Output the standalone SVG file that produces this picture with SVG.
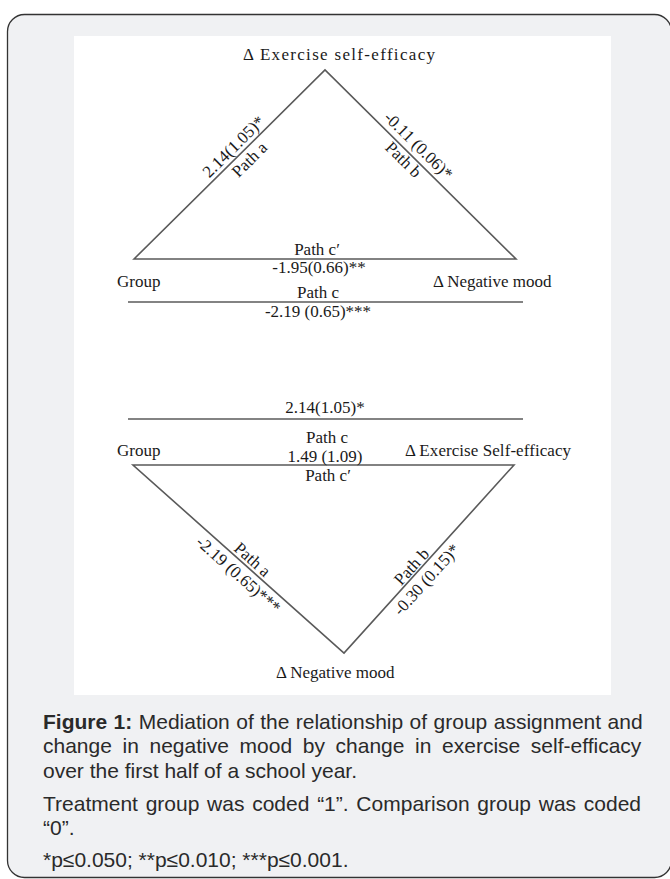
<svg xmlns="http://www.w3.org/2000/svg" width="670" height="879" viewBox="0 0 670 879">
<style>
.lbl{font-family:"Liberation Serif","Times New Roman",serif;font-size:17px;fill:#1a1a1a}
.mid{text-anchor:middle}
.edge{stroke:#5a5a5a;stroke-width:1.6;fill:none}
.cap{font-family:"Liberation Sans",Arial,sans-serif;font-size:21px;fill:#2a2a2a}
</style>
<rect x="7.5" y="14.5" width="664" height="863" rx="17" ry="17" fill="#f0f1f3" stroke="#333" stroke-width="1.3"/>
<rect x="74" y="36" width="537" height="659" fill="#ffffff"/>

<g id="connectors">
  <g id="top-model">
    <polygon class="edge" points="134,259 325,70 516,259"/>
    <line class="edge" x1="128" y1="302" x2="523" y2="302"/>
  </g>
  <g id="bottom-model">
    <line class="edge" x1="128" y1="419" x2="523" y2="419"/>
    <polygon class="edge" points="133,465 514,465 344,653"/>
  </g>
</g>

<g id="edge-labels">
  <text class="lbl mid" transform="translate(234,147) rotate(-44.7)" y="5">2.14(1.05)*</text>
  <text class="lbl mid" transform="translate(250,160) rotate(-44.7)" y="5">Path a</text>
  <text class="lbl mid" transform="translate(418,146) rotate(44.7)" y="5">-0.11 (0.06)*</text>
  <text class="lbl mid" transform="translate(403,160) rotate(44.7)" y="5">Path b</text>
  <text class="lbl mid" x="317" y="255">Path c′</text>
  <text class="lbl mid" x="319" y="273">-1.95(0.66)**</text>
  <text class="lbl mid" x="318" y="298">Path c</text>
  <text class="lbl mid" x="318" y="317">-2.19 (0.65)***</text>

  <text class="lbl mid" x="325" y="413">2.14(1.05)*</text>
  <text class="lbl mid" x="327" y="443">Path c</text>
  <text class="lbl mid" x="325" y="462">1.49 (1.09)</text>
  <text class="lbl mid" x="328" y="481">Path c′</text>
  <text class="lbl mid" transform="translate(252,560) rotate(41.7)" y="5">Path a</text>
  <text class="lbl mid" transform="translate(238,575) rotate(41.7)" y="5">-2.19 (0.65)***</text>
  <text class="lbl mid" transform="translate(412,567) rotate(-47.9)" y="5">Path b</text>
  <text class="lbl mid" transform="translate(427,580) rotate(-47.9)" y="5">-0.30 (0.15)*</text>
</g>

<g id="node-exercise-top"><text class="lbl" x="243" y="60" textLength="192" lengthAdjust="spacing">Δ Exercise self-efficacy</text></g>
<g id="node-group-top"><text class="lbl" x="117" y="287">Group</text></g>
<g id="node-mood-top"><text class="lbl" x="433" y="287">Δ Negative mood</text></g>

<g id="node-group-bottom"><text class="lbl" x="117" y="456">Group</text></g>
<g id="node-exercise-bottom"><text class="lbl" x="405" y="456" textLength="166" lengthAdjust="spacing">Δ Exercise Self-efficacy</text></g>
<g id="node-mood-bottom"><text class="lbl" x="276" y="678">Δ Negative mood</text></g>

<g id="caption">
  <text class="cap" x="43" y="729" word-spacing="0.6"><tspan font-weight="bold">Figure 1:</tspan> Mediation of the relationship of group assignment and</text>
  <text class="cap" x="43" y="753" word-spacing="4.8">change in negative mood by change in exercise self-efficacy</text>
  <text class="cap" x="43" y="778">over the first half of a school year.</text>
  <text class="cap" x="43" y="811" word-spacing="1.9">Treatment group was coded “1”. Comparison group was coded</text>
  <text class="cap" x="43" y="835">“0”.</text>
  <text class="cap" x="43" y="867">*p≤0.050; **p≤0.010; ***p≤0.001.</text>
</g>
</svg>
